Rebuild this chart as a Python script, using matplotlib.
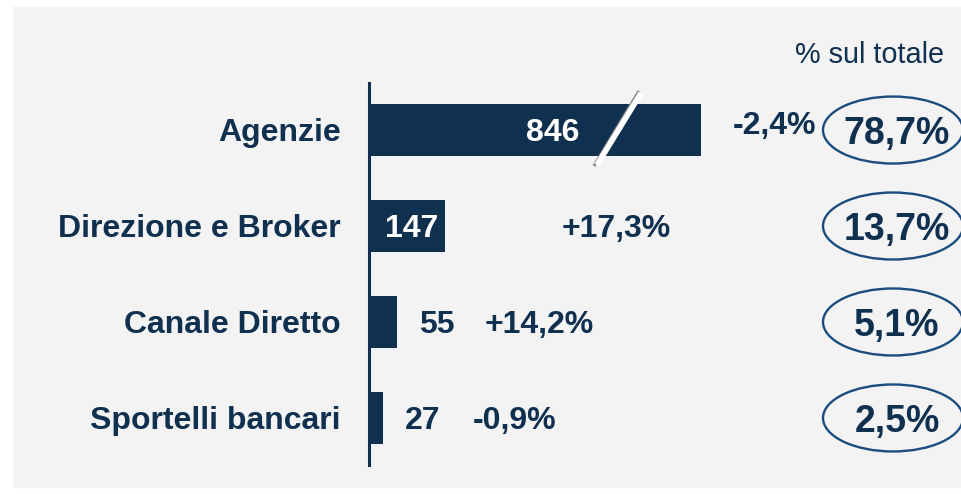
import matplotlib
matplotlib.use("Agg")
import matplotlib.pyplot as plt
from matplotlib.patches import Ellipse, Rectangle

# data
categories = ["Agenzie", "Direzione e Broker", "Canale Diretto", "Sportelli bancari"]
values = [846, 147, 55, 27]
growth = ["-2,4%", "+17,3%", "+14,2%", "-0,9%"]
share = ["78,7%", "13,7%", "5,1%", "2,5%"]

# layout (pixels on a 962x494 canvas)
W, H = 962, 494
X0 = 369          # x pixel of the axis line
SCALE = 0.515     # pixels per unit
CAP = 645         # bars longer than this get broken
growth_x = [775, 616, 539, 515]
navy = "#10304f"
ring = "#1a4d7d"
FS = 23

def ux(px):
    return (px - X0) / SCALE

plt.rcParams['font.family'] = ['Liberation Sans', 'DejaVu Sans']

fig = plt.figure(figsize=(W / 100, H / 100), dpi=100)
fig.patch.set_facecolor("white")
fig.patches.append(Rectangle((13 / W, 1 - 487 / H), (W - 13) / W, 480 / H,
                             transform=fig.transFigure, color="#f3f3f3", zorder=-5))

ax = fig.add_axes([X0 / W, 1 - 465 / H, (W - X0) / W, 382 / H])
ax.set_facecolor("none")
ax.set_xlim(0, (W - X0) / SCALE)
ax.set_ylim(3.49, -0.49)
for s in ["top", "right", "bottom"]:
    ax.spines[s].set_visible(False)
ax.spines["left"].set_color(navy)
ax.spines["left"].set_linewidth(2.2)
ax.set_xticks([])
ax.set_yticks([])

ys = range(len(categories))
shown = [min(v, CAP) for v in values]
ax.barh(ys, shown, height=0.55, color=navy, zorder=2)

dy = 0.03  # nudge text a little downward
for i, (cat, v, g, sh) in enumerate(zip(categories, values, growth, share)):
    ax.annotate(cat, xy=(0, i), xytext=(-28, -3), textcoords="offset pixels",
                ha="right", va="center", fontsize=FS, fontweight="bold",
                color=navy, annotation_clip=False)
    ax.text(ux(growth_x[i]), i + dy - (0.07 if i == 0 else 0), g, ha="center", va="center",
            fontsize=FS, fontweight="bold", color=navy)
    ax.add_patch(Ellipse((ux(893), i), 140 / SCALE, 67 / 96, fill=False,
                         edgecolor=ring, lw=1.7, clip_on=False, zorder=3))
    ax.text(ux(897), i + 0.04, sh, ha="center", va="center", fontsize=27,
            fontweight="bold", color=navy, clip_on=False)

# value labels
ax.text(ux(553), dy, str(values[0]), ha="center", va="center", fontsize=FS,
        fontweight="bold", color="white", zorder=4)
ax.annotate(str(values[1]), xy=(shown[1], 1), xytext=(-6, -3), textcoords="offset pixels",
            ha="right", va="center", fontsize=FS, fontweight="bold", color="white", zorder=4)
for i in (2, 3):
    ax.annotate(str(values[i]), xy=(shown[i], i), xytext=(22, -3), textcoords="offset pixels",
                ha="left", va="center", fontsize=FS, fontweight="bold", color=navy)

# break mark on the long bar
ax.plot([ux(594), ux(639)], [(166 - 130) / 96, (91 - 130) / 96], color="#8a8a8a",
        lw=2.2, zorder=5, solid_capstyle="butt")
ax.plot([ux(597), ux(641)], [(165 - 130) / 96, (93 - 130) / 96], color="white",
        lw=4, zorder=6, solid_capstyle="butt")

fig.text(944 / W, 1 - 55 / H, "% sul totale", ha="right", va="center",
         fontsize=20.8, color=navy)

fig.savefig("out.png", dpi=100)
